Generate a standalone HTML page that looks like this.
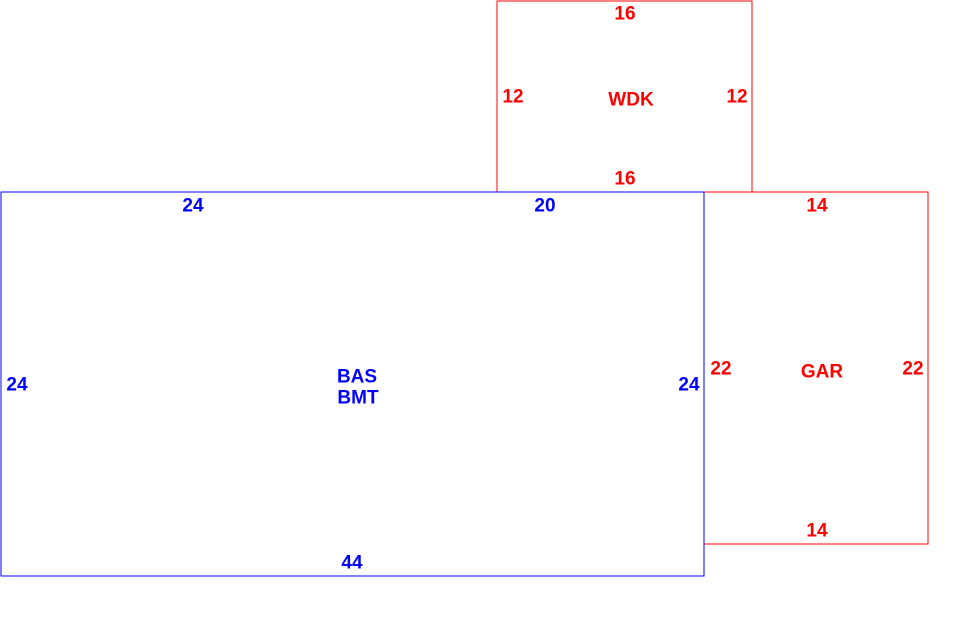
<!DOCTYPE html>
<html><head><style>html,body{margin:0;padding:0;background:#fff}</style></head>
<body>
<svg width="980" height="640" xmlns="http://www.w3.org/2000/svg" style="display:block">
<g fill="none" stroke-width="1.2" shape-rendering="crispEdges">
<rect x="497" y="1" width="255" height="191" stroke="#ff0000"/>
<rect x="704" y="192" width="224" height="352" stroke="#ff0000"/>
<rect x="1" y="192" width="703" height="384" stroke="#0000ff"/>
</g>
<g font-family="Liberation Sans, sans-serif" font-weight="bold" font-size="19" text-anchor="middle" dominant-baseline="central">
<g fill="#ff0000">
<text x="625" y="14">16</text>
<text x="513" y="97">12</text>
<text x="631" y="100">WDK</text>
<text x="737" y="97">12</text>
<text x="625" y="179">16</text>
<text x="817" y="206">14</text>
<text x="721" y="369">22</text>
<text x="822" y="372">GAR</text>
<text x="913" y="369">22</text>
<text x="817" y="531">14</text>
</g>
<g fill="#0000ff">
<text x="193" y="206">24</text>
<text x="545" y="206">20</text>
<text x="17" y="385">24</text>
<text x="357" y="377">BAS</text>
<text x="358" y="398">BMT</text>
<text x="689" y="385">24</text>
<text x="352" y="563">44</text>
</g>
</g>
</svg>
</body></html>
